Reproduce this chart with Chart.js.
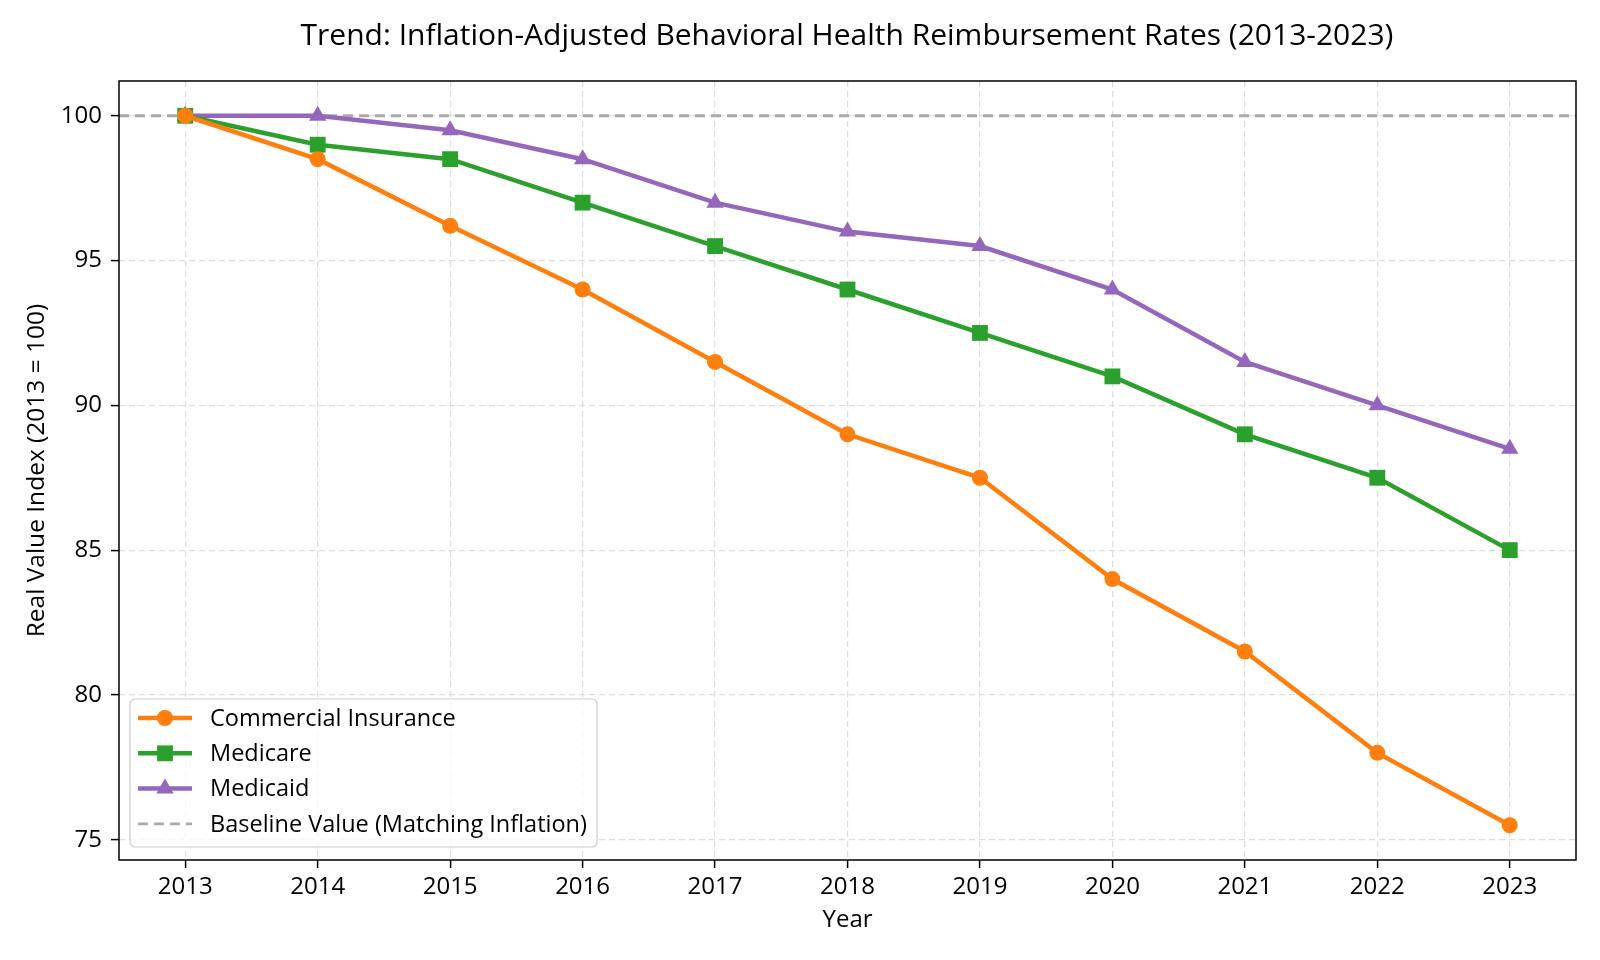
<!DOCTYPE html>
<html>
<head>
<meta charset="utf-8">
<script src="https://cdn.jsdelivr.net/npm/chart.js@4.4.1/dist/chart.umd.min.js"></script>
<style>
html,body{margin:0;padding:0;background:#fff;}
canvas{display:block;}
</style>
</head>
<body>
<canvas id="c" width="1600" height="960"></canvas>
<script>
const years = [2013,2014,2015,2016,2017,2018,2019,2020,2021,2022,2023];
const commercial = [100,98.5,96.2,94,91.5,89,87.5,84,81.5,78,75.5];
const medicare = [100,99,98.5,97,95.5,94,92.5,91,89,87.5,85];
const medicaid = [100,100,99.5,98.5,97,96,95.5,94,91.5,90,88.5];
const baselineValue = 100;
const yTicks = [75,80,85,90,95,100];
const xRange = [2012.5, 2023.5];
const yRange = [74.3, 101.2];
const titleText = 'Trend: Inflation-Adjusted Behavioral Health Reimbursement Rates (2013-2023)';
const xTitle = 'Year';
const yTitle = 'Real Value Index (2013 = 100)';
const FONT = '"Open Sans", Roboto, sans-serif';

const pts = arr => arr.map((v,i)=>({x:years[i], y:v}));

function drawMarker(ctx, style, x, y, r, color){
  ctx.save();
  ctx.fillStyle = color;
  ctx.beginPath();
  if(style==='circle'){ ctx.arc(x,y,r,0,Math.PI*2); }
  else if(style==='rect'){ const s=r*Math.SQRT1_2; ctx.rect(x-s,y-s,2*s,2*s); }
  else if(style==='triangle'){
    for(let k=0;k<3;k++){ const a=k*2*Math.PI/3; const px=x+Math.sin(a)*r, py=y-Math.cos(a)*r; k?ctx.lineTo(px,py):ctx.moveTo(px,py);} ctx.closePath();
  }
  ctx.fill();
  ctx.restore();
}

function fitSize(ctx, text, target, base){
  ctx.font = base + 'px ' + FONT;
  const w = ctx.measureText(text).width;
  return base * target / w;
}

const decor = {
  id:'decor',
  afterDraw(chart){
    const ctx = chart.ctx, a = chart.chartArea;
    ctx.save();
    // frame
    ctx.strokeStyle = '#000'; ctx.lineWidth = 1.5;
    ctx.strokeRect(a.left, a.top, a.right-a.left, a.bottom-a.top);
    // title
    ctx.fillStyle = '#000';
    ctx.textAlign = 'center'; ctx.textBaseline = 'middle';
    const ts = Math.min(30, fitSize(ctx, titleText, 1094, 26));
    ctx.font = ts + 'px ' + FONT;
    ctx.fillText(titleText, 847, 36);
    ctx.font = '24px ' + FONT;
    ctx.fillText(xTitle, (a.left+a.right)/2, 920);
    ctx.save();
    ctx.translate(37, (a.top+a.bottom)/2);
    ctx.rotate(-Math.PI/2);
    ctx.font = '24.5px ' + FONT;
    ctx.fillText(yTitle, 0, 0);
    ctx.restore();
    // legend
    const lx = 130, ly = 699, lw = 467, lh = 148;
    ctx.beginPath();
    if(ctx.roundRect) ctx.roundRect(lx, ly, lw, lh, 5); else ctx.rect(lx,ly,lw,lh);
    ctx.fillStyle = 'rgba(255,255,255,0.8)'; ctx.fill();
    ctx.strokeStyle = '#cccccc'; ctx.lineWidth = 1.2; ctx.stroke();
    const ds = chart.data.datasets;
    ctx.font = '23.5px ' + FONT; ctx.textAlign='left'; ctx.textBaseline='middle';
    ds.forEach((d,i)=>{
      const cy = 718 + i*35.3;
      ctx.save();
      ctx.strokeStyle = d.borderColor; ctx.lineWidth = d.borderWidth;
      ctx.setLineDash(d.borderDash || []);
      ctx.beginPath(); ctx.moveTo(138, cy); ctx.lineTo(192, cy); ctx.stroke();
      ctx.restore();
      if(d.pointRadius>0) drawMarker(ctx, d.pointStyle, 165, cy, d.pointRadius, d.borderColor);
      ctx.fillStyle = '#000';
      ctx.fillText(d.label, 210, cy+1);
    });
    ctx.restore();
  }
};

new Chart(document.getElementById('c'), {
  type:'line',
  data:{
    datasets:[
      {label:'Commercial Insurance', data:pts(commercial), borderColor:'#ff7f0e', backgroundColor:'#ff7f0e', borderWidth:4.5, pointStyle:'circle', pointRadius:8, pointBorderWidth:0, pointHoverRadius:8},
      {label:'Medicare', data:pts(medicare), borderColor:'#2ca02c', backgroundColor:'#2ca02c', borderWidth:4.5, pointStyle:'rect', pointRadius:11.2, pointBorderWidth:0, pointHoverRadius:11.2},
      {label:'Medicaid', data:pts(medicaid), borderColor:'#9467bd', backgroundColor:'#9467bd', borderWidth:4.5, pointStyle:'triangle', pointRadius:10, pointBorderWidth:0, pointHoverRadius:10},
      {label:'Baseline Value (Matching Inflation)', data:[{x:xRange[0],y:baselineValue},{x:xRange[1],y:baselineValue}], borderColor:'#aaaaaa', backgroundColor:'#aaaaaa', borderWidth:2.8, borderDash:[10,6], pointRadius:0, pointHoverRadius:0, order:5}
    ]
  },
  options:{
    responsive:false, animation:false, devicePixelRatio:1,
    layout:{padding:{top:81,right:24,left:0,bottom:0}},
    plugins:{legend:{display:false}, tooltip:{enabled:false}, title:{display:false}},
    elements:{line:{tension:0}},
    scales:{
      x:{type:'linear', min:xRange[0], max:xRange[1],
        afterBuildTicks(s){ s.ticks = years.map(v=>({value:v})); },
        afterFit(s){ s.height = 100; },
        grid:{color:'#dddddd', lineWidth:1.2, tickLength:8, tickColor:'#000', tickWidth:1.5, tickBorderDash:[]},
        border:{display:false, dash:[6,4]},
        ticks:{color:'#000', font:{family:FONT,size:24}, padding:5, maxRotation:0, autoSkip:false, callback:v=>String(v)}
      },
      y:{type:'linear', min:yRange[0], max:yRange[1],
        afterBuildTicks(s){ s.ticks = yTicks.map(v=>({value:v})); },
        afterFit(s){ s.width = 119; },
        grid:{color:'#dddddd', lineWidth:1.2, tickLength:8, tickColor:'#000', tickWidth:1.5, tickBorderDash:[]},
        border:{display:false, dash:[6,4]},
        ticks:{color:'#000', font:{family:FONT,size:24}, padding:9, callback:v=>String(v)}
      }
    }
  },
  plugins:[decor]
});
</script>
</body>
</html>
